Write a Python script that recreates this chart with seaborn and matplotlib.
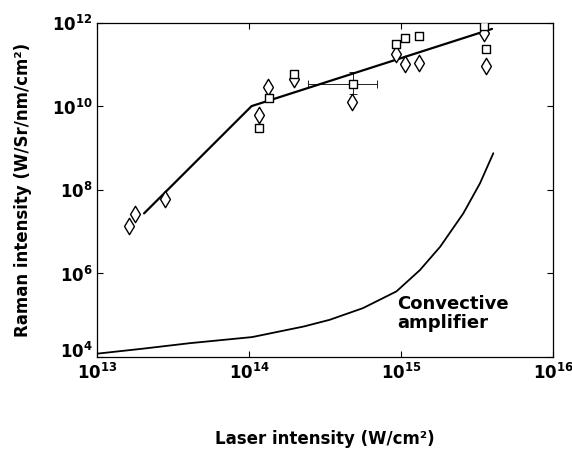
import matplotlib
matplotlib.use("Agg")
import matplotlib.pyplot as plt
import matplotlib.transforms as mtransforms
import seaborn as sns
import pandas as pd
import numpy as np
from matplotlib.ticker import FuncFormatter

# Данные
diamond_x = [1.62e13, 1.77e13, 2.8e13, 1.16e14, 1.33e14, 1.98e14, 4.76e14,
             9.2e14, 1.07e15, 1.31e15, 3.53e15, 3.6e15]
diamond_y = [1.4e7, 2.6e7, 6.0e7, 6.3e9, 3.0e10, 4.6e10, 1.3e10,
             1.8e11, 1.02e11, 1.12e11, 5.6e11, 9.5e10]

square_x = [1.16e14, 1.36e14, 1.98e14, 4.8e14, 9.2e14, 1.07e15, 1.31e15,
            3.53e15, 3.62e15]
square_y = [3.05e9, 1.57e10, 6.0e10, 3.5e10, 3.2e11, 4.3e11, 5.0e11,
            8.5e11, 2.4e11]

# точка с погрешностями
err_x = 4.8e14
err_y = 3.5e10
err_x_range = [2.43e14, 6.9e14]
err_y_range = [1.95e10, 6.8e10]

# излом аппроксимации
fit_x = [2.04e13, 1.04e14, 3.97e15]
fit_y = [2.75e7, 1.02e10, 7.2e11]

# конвективный усилитель
conv_x = [1.0e13, 2.0e13, 4.07e13, 1.05e14, 2.29e14, 3.39e14, 5.62e14,
          9.33e14, 1.33e15, 1.81e15, 2.57e15, 3.31e15, 4.05e15]
conv_y = [1.2e4, 1.58e4, 2.14e4, 3.0e4, 5.37e4, 7.76e4, 1.48e5,
          3.72e5, 1.2e6, 4.37e6, 2.75e7, 1.45e8, 7.6e8]

sns.set_style("ticks")
plt.rcParams['font.family'] = ['DejaVu Sans']
plt.rcParams['font.weight'] = 'bold'
plt.rcParams['mathtext.fontset'] = 'dejavusans'
plt.rcParams['text.color'] = 'black'
plt.rcParams['axes.labelcolor'] = 'black'

fig = plt.figure(figsize=(5.72, 4.5), dpi=100)
ax = fig.add_axes([0.1696, 0.2067, 0.7972, 0.7423])
ax.set_xscale('log')
ax.set_yscale('log')

df_fit = pd.DataFrame({'x': fit_x, 'y': fit_y})
df_conv = pd.DataFrame({'x': conv_x, 'y': conv_y})
sns.lineplot(data=df_fit, x='x', y='y', sort=False, color='black', lw=1.6, ax=ax)
sns.lineplot(data=df_conv, x='x', y='y', sort=False, color='black', lw=1.3, ax=ax)

ax.errorbar([err_x], [err_y],
            xerr=[[err_x - err_x_range[0]], [err_x_range[1] - err_x]],
            yerr=[[err_y - err_y_range[0]], [err_y_range[1] - err_y]],
            fmt='none', ecolor='black', elinewidth=0.6, capsize=3, capthick=0.6)

df_d = pd.DataFrame({'x': diamond_x, 'y': diamond_y})
df_s = pd.DataFrame({'x': square_x, 'y': square_y})
sns.scatterplot(data=df_d, x='x', y='y', marker='d', s=70, facecolor='white',
                edgecolor='black', linewidth=1.0, ax=ax, zorder=5)
sns.scatterplot(data=df_s, x='x', y='y', marker='s', s=38, facecolor='white',
                edgecolor='black', linewidth=1.0, ax=ax, zorder=5)

ax.set_xlim(1e13, 1e16)
ax.set_ylim(1e4, 1e12)
ax.set_xticks([1e13, 1e14, 1e15, 1e16])
ax.set_yticks([1e4, 1e6, 1e8, 1e10, 1e12])
ax.minorticks_off()
fmt = FuncFormatter(lambda v, p: r'$\mathbf{10^{%d}}$' % round(np.log10(v)))
ax.xaxis.set_major_formatter(fmt)
ax.yaxis.set_major_formatter(fmt)
ax.tick_params(direction='in', length=4, width=0.8, top=True, right=True,
               labelsize=12, color='black', labelcolor='black')
ax.tick_params(axis='x', pad=4)
ax.tick_params(axis='y', pad=3)
for sp in ax.spines.values():
    sp.set_linewidth(0.9)
    sp.set_color('black')

# подпись 10^4 чуть выше, чтобы не налезала на 10^13
fig.canvas.draw()
lab4 = ax.yaxis.get_major_ticks()[0].label1
lab4.set_transform(lab4.get_transform() +
                   mtransforms.ScaledTranslation(0, 5 / 72, fig.dpi_scale_trans))

ax.text(0.658, 0.187, 'Convective\namplifier', transform=ax.transAxes,
        fontsize=13, fontweight='bold', ha='left', va='top', linespacing=1.1)

ax.set_xlabel('Laser intensity (W/cm²)', fontsize=12, fontweight='bold', labelpad=34)
ax.set_ylabel('Raman intensity (W/Sr/nm/cm²)', fontsize=12, fontweight='bold', labelpad=14)

fig.savefig('out.png', dpi=100)
plt.close(fig)
